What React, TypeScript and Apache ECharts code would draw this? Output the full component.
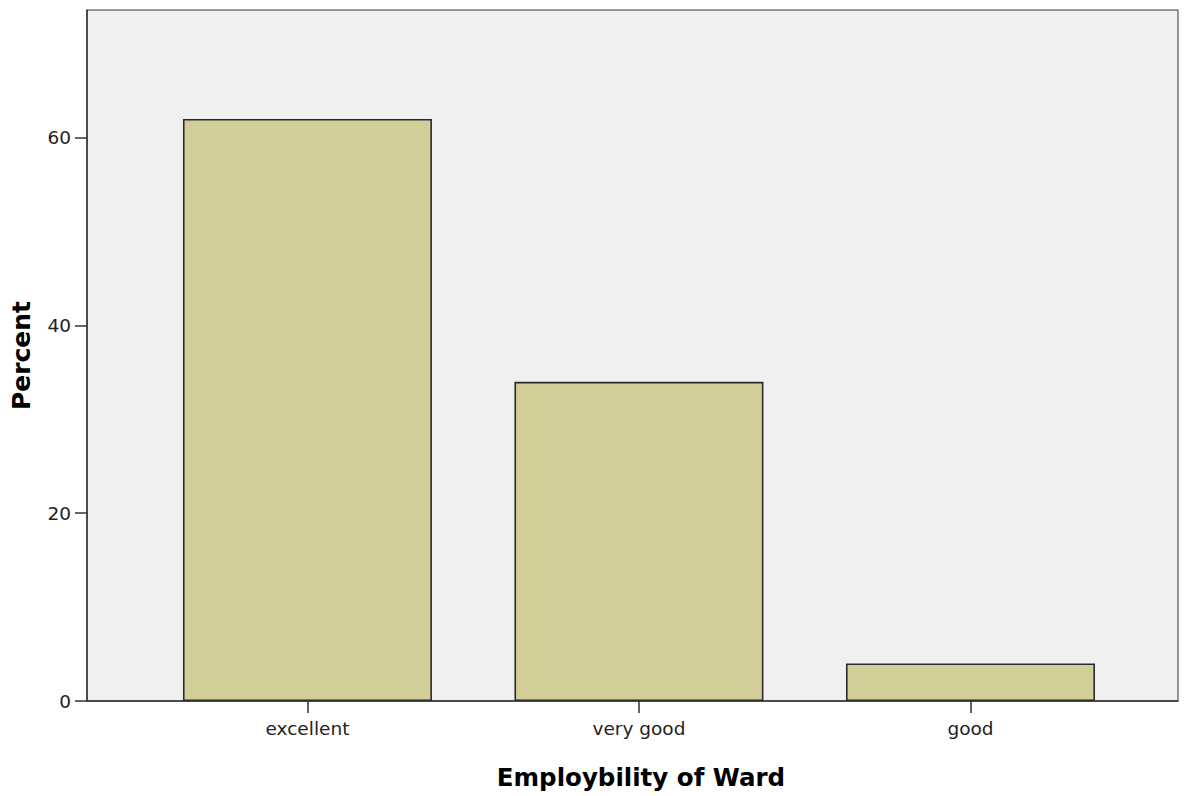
import React, { useEffect, useRef } from "react";
import * as echarts from "echarts";

const categories = ["excellent", "very good", "good"];
const percentValues = [62, 34, 4];
const yTickValues = [0, 20, 40, 60];
const xTickPositions = [1, 2, 3];

export default function App() {
  const ref = useRef<HTMLDivElement>(null);
  useEffect(() => {
    if (!ref.current) return;
    const chart = echarts.init(ref.current, null, { renderer: "svg" });
    const font = "'DejaVu Sans', Arial, sans-serif";
    chart.setOption({
      animation: false,
      grid: {
        left: 87,
        right: 14,
        top: 10,
        bottom: 95,
        show: true,
        backgroundColor: "#F0F0F0",
        borderColor: "#333333",
        borderWidth: 1,
      },
      xAxis: {
        type: "value",
        min: 0.335,
        max: 3.626,
        name: "Employbility of Ward",
        nameLocation: "middle",
        nameGap: 64,
        nameTextStyle: { fontFamily: font, fontSize: 24.5, fontWeight: "bold", color: "#000", padding: [0, 0, 0, 17] },
        splitLine: { show: false },
        axisLine: { show: true, lineStyle: { color: "#333333", width: 1.5 } },
        axisTick: { show: true, length: 12, customValues: xTickPositions, lineStyle: { color: "#333333", width: 1.5 } },
        axisLabel: {
          customValues: xTickPositions,
          formatter: (v: number) => categories[Math.round(v) - 1] ?? "",
          fontFamily: font,
          fontSize: 18.5,
          color: "#222",
          margin: 18,
        },
      },
      yAxis: {
        type: "value",
        min: 0,
        max: 73.6,
        name: "Percent",
        nameLocation: "middle",
        nameGap: 53,
        nameTextStyle: { fontFamily: font, fontSize: 25, fontWeight: "bold", color: "#000" },
        splitLine: { show: false },
        axisLine: { show: true, lineStyle: { color: "#333333", width: 1.5 } },
        axisTick: { show: true, length: 12, customValues: yTickValues, lineStyle: { color: "#333333", width: 1.5 } },
        axisLabel: {
          customValues: yTickValues,
          fontFamily: font,
          fontSize: 18.5,
          color: "#222",
          margin: 16,
        },
      },
      series: [
        {
          type: "bar",
          data: percentValues.map((v, i) => [xTickPositions[i], v]),
          barWidth: 249,
          itemStyle: { color: "#D3CE97", borderColor: "#2a2a2a", borderWidth: 1.6 },
        },
      ],
    });
    return () => chart.dispose();
  }, []);
  return (
    <div
      ref={ref}
      style={{ position: "fixed", left: 0, top: 0, width: 1192, height: 796, background: "#fff" }}
    />
  );
}
